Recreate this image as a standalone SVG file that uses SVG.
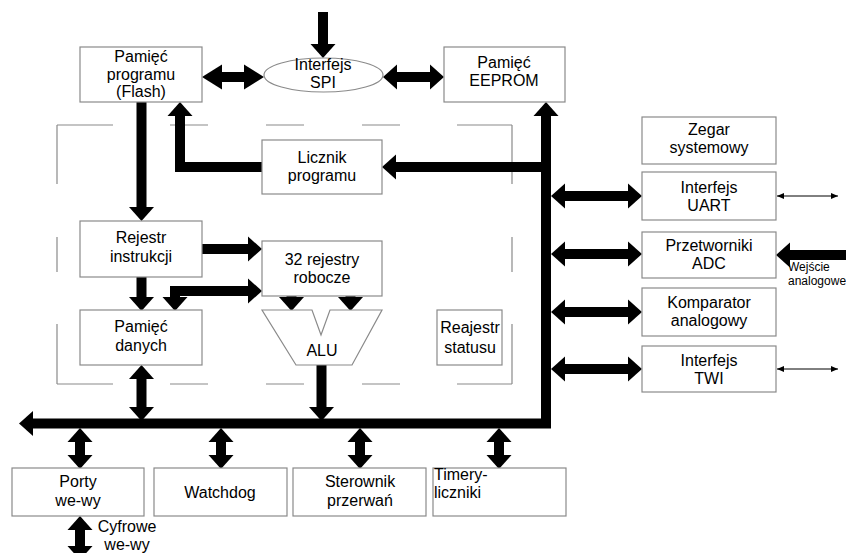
<svg xmlns="http://www.w3.org/2000/svg" width="846" height="553" viewBox="0 0 846 553">
<style>
.box{fill:#fff;stroke:#8a8a8a;stroke-width:1.2}
.t{font-family:"Liberation Sans",Arial,sans-serif;font-size:16px;fill:#000;text-anchor:middle}
.ts{font-family:"Liberation Sans",Arial,sans-serif;font-size:12px;fill:#000}
.w{fill:none;stroke:#000;stroke-width:10;stroke-linejoin:miter}
.thin{fill:none;stroke:#000;stroke-width:1}
.dash{fill:none;stroke:#8a8a8a;stroke-width:1.2}
</style>
<defs>
<marker id="h" markerUnits="userSpaceOnUse" markerWidth="14" markerHeight="26" refX="0" refY="12.5" orient="auto-start-reverse" overflow="visible"><path d="M0,0 L14,12.5 L0,25 Z" fill="#000"/></marker>
<marker id="hl" markerUnits="userSpaceOnUse" markerWidth="20" markerHeight="26" refX="0" refY="12.5" orient="auto-start-reverse" overflow="visible"><path d="M0,0 L20,12.5 L0,25 Z" fill="#000"/></marker>
<marker id="hs" markerUnits="userSpaceOnUse" markerWidth="8" markerHeight="8" refX="7" refY="3" orient="auto-start-reverse" overflow="visible"><path d="M0,0 L7,3 L0,6 Z" fill="#000"/></marker>
</defs>
<rect width="846" height="553" fill="#fff"/>
<g id="frame">
<path class="dash" d="M57,125H113M170,125H208M266,125H304M362,125H400M457,125H512M57,384H113M170,384H208M266,384H304M362,384H400M457,384H512M57,125V184M57,237V272M57,324V384M512,125V184M512,237V272M512,324V384"/>
</g>
<g id="connectors">
<path class="w" d="M323,12V44" marker-end="url(#h)"/>
<path class="w" d="M222,77H244" marker-start="url(#hl)" marker-end="url(#hl)"/>
<path class="w" d="M397,77H430" marker-start="url(#h)" marker-end="url(#h)"/>
<path class="w" d="M262,167H180V116" marker-end="url(#h)"/>
<path class="w" d="M546,167H396" marker-end="url(#h)"/>
<path class="w" d="M33,423.5H546V116" marker-start="url(#h)" marker-end="url(#h)"/>
<path class="w" d="M141.5,102V207" marker-end="url(#h)"/>
<path class="w" d="M202,249H248" marker-end="url(#h)"/>
<path class="w" d="M248,291H175V297" marker-start="url(#h)" marker-end="url(#h)"/>
<path class="w" d="M141.5,277V297" marker-end="url(#h)"/>
<path class="w" d="M291.5,295V297" marker-end="url(#h)"/>
<path class="w" d="M350.5,295V297" marker-end="url(#h)"/>
<path class="w" d="M321.5,365V407" marker-end="url(#h)"/>
<path class="w" d="M141.5,379V407" marker-start="url(#h)" marker-end="url(#h)"/>
<path class="w" d="M565,196H628" marker-start="url(#h)" marker-end="url(#h)"/>
<path class="w" d="M565,254H628" marker-start="url(#h)" marker-end="url(#h)"/>
<path class="w" d="M565,312H628" marker-start="url(#h)" marker-end="url(#h)"/>
<path class="w" d="M565,369H628" marker-start="url(#h)" marker-end="url(#h)"/>
<path class="w" d="M846,255H790" marker-end="url(#h)"/>
<path class="thin" d="M777,196H838" marker-start="url(#hs)" marker-end="url(#hs)"/>
<path class="thin" d="M777,369H838" marker-start="url(#hs)" marker-end="url(#hs)"/>
<path class="w" d="M80,442V455" marker-start="url(#h)" marker-end="url(#h)"/>
<path class="w" d="M221,442V455" marker-start="url(#h)" marker-end="url(#h)"/>
<path class="w" d="M360,442V455" marker-start="url(#h)" marker-end="url(#h)"/>
<path class="w" d="M499,442V455" marker-start="url(#h)" marker-end="url(#h)"/>
<path class="w" d="M80,530V546" marker-start="url(#h)" marker-end="url(#h)"/>
</g>
<g id="flash"><rect class="box" x="80" y="47" width="122" height="55"/><text class="t" x="141" y="62">Pamięć</text><text class="t" x="141" y="80">programu</text><text class="t" x="141" y="97">(Flash)</text></g>
<g id="spi"><ellipse class="box" cx="323.5" cy="75" rx="59.5" ry="17"/><text class="t" x="323" y="70">Interfejs</text><text class="t" x="323" y="88">SPI</text></g>
<g id="eeprom"><rect class="box" x="444" y="47" width="121" height="55"/><text class="t" x="504" y="68">Pamięć</text><text class="t" x="504" y="86">EEPROM</text></g>
<g id="licznik"><rect class="box" x="262" y="140" width="120" height="54"/><text class="t" x="322" y="163">Licznik</text><text class="t" x="322" y="181">programu</text></g>
<g id="rejestr"><rect class="box" x="80" y="221" width="122" height="56"/><text class="t" x="141" y="243">Rejestr</text><text class="t" x="141" y="262">instrukcji</text></g>
<g id="rejestry32"><rect class="box" x="262" y="241" width="120" height="55"/><text class="t" x="322" y="265">32 rejestry</text><text class="t" x="322" y="283">robocze</text></g>
<g id="danych"><rect class="box" x="80" y="310" width="122" height="55"/><text class="t" x="141" y="332">Pamięć</text><text class="t" x="141" y="351">danych</text></g>
<g id="alu"><polygon class="box" points="262,310 312,310 321,335 330,310 382,310 352,365 296,365"/><text class="t" x="322" y="356">ALU</text></g>
<g id="status"><rect class="box" x="437" y="310" width="65" height="55"/><text class="t" x="470" y="333">Reajestr</text><text class="t" x="470" y="353">statusu</text></g>
<g id="zegar"><rect class="box" x="642" y="117" width="134" height="47"/><text class="t" x="709" y="135">Zegar</text><text class="t" x="709" y="153">systemowy</text></g>
<g id="uart"><rect class="box" x="642" y="172" width="134" height="48"/><text class="t" x="709" y="193">Interfejs</text><text class="t" x="709" y="211">UART</text></g>
<g id="adc"><rect class="box" x="642" y="232" width="134" height="46"/><text class="t" x="709" y="251">Przetworniki</text><text class="t" x="709" y="269">ADC</text></g>
<g id="komparator"><rect class="box" x="642" y="288" width="134" height="48"/><text class="t" x="709" y="308">Komparator</text><text class="t" x="709" y="326">analogowy</text></g>
<g id="twi"><rect class="box" x="642" y="346" width="134" height="46"/><text class="t" x="709" y="366">Interfejs</text><text class="t" x="709" y="384">TWI</text></g>
<g id="wejscie"><text class="ts" x="788" y="271">Wejście</text><text class="ts" x="788" y="285">analogowe</text></g>
<g id="porty"><rect class="box" x="12" y="468" width="132" height="48"/><text class="t" x="78" y="487">Porty</text><text class="t" x="78" y="506">we-wy</text></g>
<g id="watchdog"><rect class="box" x="154" y="468" width="133" height="48"/><text class="t" x="220" y="498">Watchdog</text></g>
<g id="sterownik"><rect class="box" x="293" y="468" width="133" height="48"/><text class="t" x="360" y="487">Sterownik</text><text class="t" x="360" y="506">przerwań</text></g>
<g id="timery"><rect class="box" x="433" y="468" width="133" height="48"/><text class="t" x="434" y="480" style="text-anchor:start">Timery-</text><text class="t" x="434" y="498" style="text-anchor:start">liczniki</text></g>
<g id="cyfrowe"><text class="t" x="127" y="532">Cyfrowe</text><text class="t" x="127" y="550">we-wy</text></g>
</svg>
